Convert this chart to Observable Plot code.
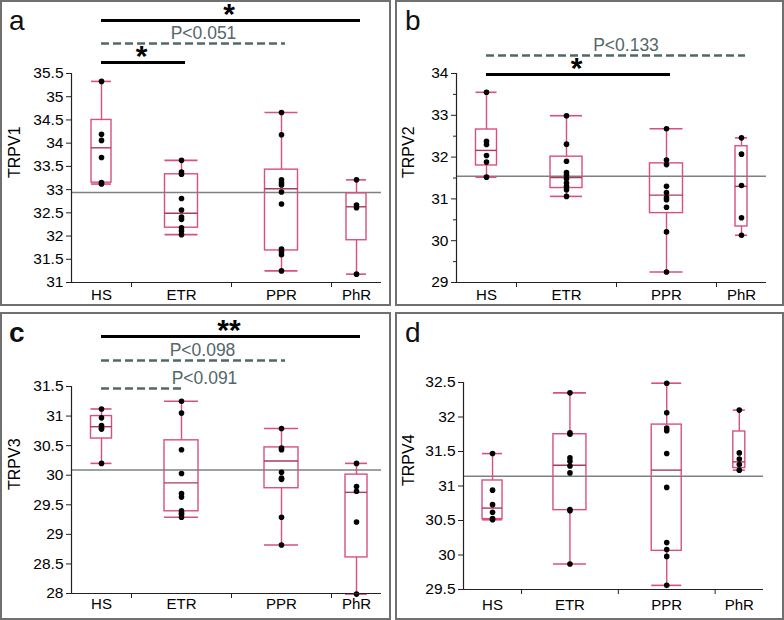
<!DOCTYPE html>
<html><head><meta charset="utf-8">
<script src="https://cdn.jsdelivr.net/npm/d3@7"></script>
<script src="https://cdn.jsdelivr.net/npm/@observablehq/plot@0.6"></script>
<style>
body{margin:0;background:#fff;}
#fig{position:relative;width:784px;height:620px;overflow:hidden;background:#fff;font-family:"Liberation Sans",Arial,sans-serif;}
.frame{position:absolute;border:2px solid #707070;box-sizing:border-box;pointer-events:none;}
.plot{position:absolute;}
.letter{position:absolute;font-size:28px;line-height:28px;color:#111;}
</style></head><body><div id="fig"></div>
<script>
// ---------- data ----------
const groups = ["HS", "ETR", "PPR", "PhR"];
const groupN = [6, 10, 10, 5];

// TRPV1 (a)
const trpv1Ticks = [31, 31.5, 32, 32.5, 33, 33.5, 34, 34.5, 35, 35.5];
const trpv1HS  = [35.33, 34.19, 34.06, 33.69, 33.15, 33.12];
const trpv1ETR = [33.63, 33.38, 33.33, 32.81, 32.56, 32.41, 32.36, 32.18, 32.11, 32.03];
const trpv1PPR = [34.66, 34.18, 33.21, 33.15, 33.10, 32.95, 32.69, 31.72, 31.67, 31.60, 31.25];
const trpv1PhR = [33.21, 32.67, 32.61, 31.18];
const trpv1Q1 = [33.15, 32.18, 31.69, 31.91];
const trpv1Median = [33.90, 32.49, 33.02, 32.63];
const trpv1Q3 = [34.50, 33.33, 33.43, 32.92];
const trpv1Mean = 32.94;
const trpv1AnnFrom = ["HS", "HS", "HS"];
const trpv1AnnTo = ["ETR", "PPR", "PhR"];
const trpv1AnnLabel = ["*", "P<0.051", "*"];

// TRPV2 (b)
const trpv2Ticks = [29, 30, 31, 32, 33, 34];
const trpv2Minor = [29.5, 30.5, 31.5, 32.5, 33.5];
const trpv2HS  = [33.55, 32.38, 32.30, 32.04, 31.88, 31.52];
const trpv2ETR = [32.99, 32.31, 31.90, 31.63, 31.57, 31.48, 31.38, 31.30, 31.22, 31.06];
const trpv2PPR = [32.68, 31.93, 31.82, 31.30, 31.15, 31.03, 30.98, 30.80, 30.21, 29.25];
const trpv2PhR = [32.46, 32.07, 31.32, 30.55, 30.13];
const trpv2Q1 = [31.80, 31.26, 30.66, 30.34];
const trpv2Median = [32.16, 31.51, 31.09, 31.30];
const trpv2Q3 = [32.66, 32.01, 31.85, 32.26];
const trpv2Mean = 31.54;
const trpv2AnnFrom = ["HS", "HS"];
const trpv2AnnTo = ["PPR", "PhR"];
const trpv2AnnLabel = ["*", "P<0.133"];

// TRPV3 (c)
const trpv3Ticks = [28, 28.5, 29, 29.5, 30, 30.5, 31, 31.5];
const trpv3HS  = [31.12, 30.97, 30.84, 30.80, 30.78, 30.20];
const trpv3ETR = [31.25, 31.05, 30.43, 30.03, 29.69, 29.63, 29.40, 29.36, 29.34, 29.29];
const trpv3PPR = [30.79, 30.46, 30.43, 30.05, 29.95, 29.93, 29.29, 28.82];
const trpv3PhR = [30.20, 29.81, 29.73, 29.21, 27.99];
const trpv3Q1 = [30.62, 29.39, 29.78, 28.61];
const trpv3Median = [30.82, 29.87, 30.24, 29.71];
const trpv3Q3 = [31.00, 30.59, 30.47, 30.01];
const trpv3Mean = 30.09;
const trpv3AnnFrom = ["HS", "HS", "HS"];
const trpv3AnnTo = ["ETR", "PPR", "PhR"];
const trpv3AnnLabel = ["P<0.091", "P<0.098", "**"];

// TRPV4 (d)
const trpv4Ticks = [29.5, 30, 30.5, 31, 31.5, 32, 32.5];
const trpv4HS  = [31.47, 30.94, 30.73, 30.62, 30.53, 30.51];
const trpv4ETR = [32.35, 31.77, 31.75, 31.41, 31.36, 31.29, 31.19, 30.66, 30.64, 29.87];
const trpv4PPR = [32.49, 32.06, 31.84, 31.80, 31.47, 30.98, 30.18, 30.08, 29.98, 29.56];
const trpv4PhR = [32.10, 31.48, 31.39, 31.31, 31.23];
const trpv4Q1 = [30.52, 30.65, 30.06, 31.26];
const trpv4Median = [30.68, 31.30, 31.23, 31.35];
const trpv4Q3 = [31.08, 31.75, 31.89, 31.79];
const trpv4Mean = 31.14;

// ---------- drawing ----------
const N = d3.sum(groupN);
const bounds = Array.from(d3.cumsum(groupN));
const centers = groupN.map((n, i) => bounds[i] - n / 2);
const innerBounds = bounds.slice(0, -1);
const BOX = "#d9507c", MED = "#a83a60", TREND = "#536767", AX = "#222";
const FONT = '"Liberation Sans", Arial, Helvetica, sans-serif';

function makePanel(p) {
  const yMin = p.ticks[0], yMax = p.ticks[p.ticks.length - 1];
  const pxPerUnit = (p.w - p.mL - p.mR) / N;
  const boxes = groups.map((g, i) => {
    const half = p.boxW[i] / 2 / pxPerUnit;
    return {c: centers[i], x1: centers[i] - half, x2: centers[i] + half,
      q1: p.q1[i], med: p.med[i], q3: p.q3[i], lo: d3.min(p.points[i]), hi: d3.max(p.points[i])};
  });
  const dots = groups.flatMap((g, i) => p.points[i].map(v => ({c: centers[i], v})));
  const marks = [
    Plot.ruleY([p.mean], {stroke: "#7b8282", strokeWidth: 1.5}),
    Plot.ruleX(boxes, {x: "c", y1: "q3", y2: "hi", stroke: BOX, strokeWidth: 1.4}),
    Plot.ruleX(boxes, {x: "c", y1: "lo", y2: "q1", stroke: BOX, strokeWidth: 1.4}),
    Plot.rect(boxes, {x1: "x1", x2: "x2", y1: "q1", y2: "q3", fill: "none", stroke: BOX, strokeWidth: 1.4}),
    Plot.ruleY(boxes, {y: "hi", x1: "x1", x2: "x2", stroke: BOX, strokeWidth: 1.6}),
    Plot.ruleY(boxes, {y: "lo", x1: "x1", x2: "x2", stroke: BOX, strokeWidth: 1.6}),
    Plot.ruleY(boxes, {y: "med", x1: "x1", x2: "x2", stroke: MED, strokeWidth: 1.4}),
    Plot.dot(dots, {x: "c", y: "v", r: 2.8, fill: "#000", stroke: null}),
    Plot.ruleX([{x: 0, y1: yMin, y2: yMax}], {x: "x", y1: "y1", y2: "y2", stroke: AX, strokeWidth: 1.2}),
    Plot.ruleY([yMin], {stroke: AX, strokeWidth: 1.2}),
    Plot.axisY({ticks: p.ticks, tickSize: 5, tickPadding: 3, tickFormat: d => String(d), label: null, stroke: AX, fill: "#000", fontSize: 15.5}),
    Plot.axisX({ticks: innerBounds, tickSize: 5, tickFormat: () => "", label: null, stroke: AX}),
    Plot.axisX({ticks: centers, tickSize: 0, tickPadding: p.xPad, tickFormat: d => groups[centers.indexOf(d)], label: null, fill: "#000", fontSize: 15}),
    Plot.text([p.yLabel], {frameAnchor: "left", text: d => d, rotate: -90, lineAnchor: "top", dx: -(p.mL - p.labelX), fontSize: 16, fill: "#000"})
  ];
  if (p.minor) marks.push(Plot.axisY({ticks: p.minor, tickSize: 3, tickFormat: () => "", label: null, stroke: AX}));
  (p.annFrom || []).forEach((from, k) => {
    const xa = centers[groups.indexOf(from)], xb = centers[groups.indexOf(p.annTo[k])];
    const label = p.annLabel[k];
    const sig = label.startsWith("*");
    const d = [{x1: xa, x2: xb, xm: (xa + xb) / 2, y: yMax, label}];
    marks.push(Plot.ruleY(d, {y: "y", x1: "x1", x2: "x2", dy: p.annDy[k], insetRight: -4,
      stroke: sig ? "#000" : TREND, strokeWidth: sig ? 3 : 2.6, ...(sig ? {} : {strokeDasharray: "8,4"})}));
    marks.push(Plot.text(d, {x: "xm", y: "y", text: "label", dy: p.annDy[k] + (sig ? -6.5 : -10), dx: p.annDx[k],
      lineAnchor: "middle", fontSize: sig ? 30 : 17.5, fontWeight: sig ? "bold" : "normal", fill: sig ? "#000" : TREND}));
  });
  const svg = Plot.plot({
    width: p.w, height: p.h, marginLeft: p.mL, marginRight: p.mR, marginTop: p.mT, marginBottom: p.mB,
    x: {domain: [0, N]},
    y: {domain: [yMin, yMax]},
    style: {fontFamily: FONT, fontSize: "15px", background: "transparent", overflow: "visible", color: "#000"},
    marks
  });
  svg.classList.add("plot");
  svg.style.left = p.left + "px";
  svg.style.top = p.top + "px";
  return svg;
}

const fig = document.getElementById("fig");
const panels = [
  {letter: "a", bold: false, left: 0, top: 0, w: 390, h: 306, mL: 71, mR: 9, mT: 73, mB: 24, xPad: 7, labelX: 8,
   yLabel: "TRPV1", ticks: trpv1Ticks, points: [trpv1HS, trpv1ETR, trpv1PPR, trpv1PhR],
   q1: trpv1Q1, med: trpv1Median, q3: trpv1Q3, mean: trpv1Mean, boxW: [20, 33, 33, 20],
   annFrom: trpv1AnnFrom, annTo: trpv1AnnTo, annLabel: trpv1AnnLabel, annDy: [-11, -30, -53], annDx: [0, 12, 0]},
  {letter: "b", bold: false, left: 396, top: 0, w: 388, h: 306, mL: 60, mR: 18, mT: 73, mB: 24, xPad: 7, labelX: 6,
   yLabel: "TRPV2", ticks: trpv2Ticks, minor: trpv2Minor, points: [trpv2HS, trpv2ETR, trpv2PPR, trpv2PhR],
   q1: trpv2Q1, med: trpv2Median, q3: trpv2Q3, mean: trpv2Mean, boxW: [21, 32, 33, 12],
   annFrom: trpv2AnnFrom, annTo: trpv2AnnTo, annLabel: trpv2AnnLabel, annDy: [1, -18], annDx: [0, 12]},
  {letter: "c", bold: true, left: 0, top: 312, w: 390, h: 308, mL: 71, mR: 9, mT: 74, mB: 27, xPad: 5, labelX: 8,
   yLabel: "TRPV3", ticks: trpv3Ticks, points: [trpv3HS, trpv3ETR, trpv3PPR, trpv3PhR],
   q1: trpv3Q1, med: trpv3Median, q3: trpv3Q3, mean: trpv3Mean, boxW: [21, 34, 34, 22],
   annFrom: trpv3AnnFrom, annTo: trpv3AnnTo, annLabel: trpv3AnnLabel, annDy: [2, -26, -50], annDx: [63, 11, 0]},
  {letter: "d", bold: false, left: 396, top: 312, w: 388, h: 308, mL: 67, mR: 21, mT: 70, mB: 31, xPad: 10, labelX: 6,
   yLabel: "TRPV4", ticks: trpv4Ticks, points: [trpv4HS, trpv4ETR, trpv4PPR, trpv4PhR],
   q1: trpv4Q1, med: trpv4Median, q3: trpv4Q3, mean: trpv4Mean, boxW: [20, 33, 30, 12]}
];
const frames = [[0, 0, 391, 306], [395, 0, 389, 306], [0, 312, 391, 308], [395, 312, 389, 308]];
panels.forEach((p, i) => {
  fig.appendChild(makePanel(p));
  const f = document.createElement("div");
  f.className = "frame";
  const [x, y, w, h] = frames[i];
  Object.assign(f.style, {left: x + "px", top: y + "px", width: w + "px", height: h + "px"});
  fig.appendChild(f);
  const l = document.createElement("div");
  l.className = "letter";
  l.textContent = p.letter;
  Object.assign(l.style, {left: (p.left + 9) + "px", top: (p.top + 7) + "px", fontWeight: p.bold ? "bold" : "normal"});
  fig.appendChild(l);
});
</script></body></html>
